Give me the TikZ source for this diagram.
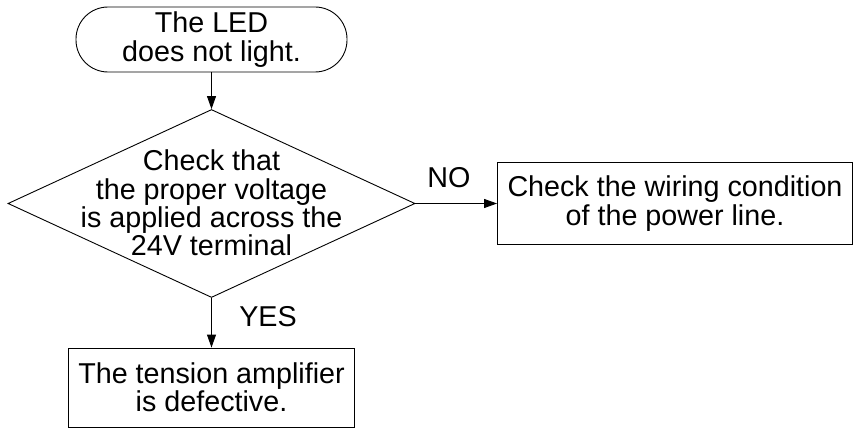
\documentclass[tikz,border=0pt]{standalone}
\usepackage{fontspec}
\setmainfont{Liberation Sans}
\usetikzlibrary{shapes.geometric,arrows.meta}
\begin{document}
\begin{tikzpicture}[x=1pt,y=-1pt,
  every node/.style={font=\fontsize{28.7}{28.3}\selectfont, align=center, inner sep=0pt},
  box/.style={draw, line width=0.9pt, rectangle},
  term/.style={draw, line width=0.9pt, rectangle, rounded corners=32pt},
  dia/.style={draw, line width=0.9pt, diamond},
  conn/.style={line width=0.9pt, -{Triangle[length=13pt,width=9pt]}}]
\useasboundingbox (0,0) rectangle (854,428);
\node[term, minimum width=271pt, minimum height=65pt] (start) at (211.5,39.5) {The LED\\does not light.};
\node[dia, minimum width=407pt, minimum height=188pt] (check) at (211.5,203.5) {};
\node (checktext) at (211.5,203) {Check that\\the proper voltage\\is applied across the\\24V terminal};
\node[box, minimum width=355pt, minimum height=82pt] (wiring) at (675,203.5) {Check the wiring condition\\of the power line.};
\node[box, minimum width=286pt, minimum height=79pt] (defect) at (211.5,387.5) {The tension amplifier\\is defective.};
\draw[conn] (start.south) -- (check.north);
\draw[conn] (check.east) -- (wiring.west);
\draw[conn] (check.south) -- (defect.north);
\node (no) at (449,178) {NO};
\node (yes) at (268,317) {YES};
\end{tikzpicture}
\end{document}
